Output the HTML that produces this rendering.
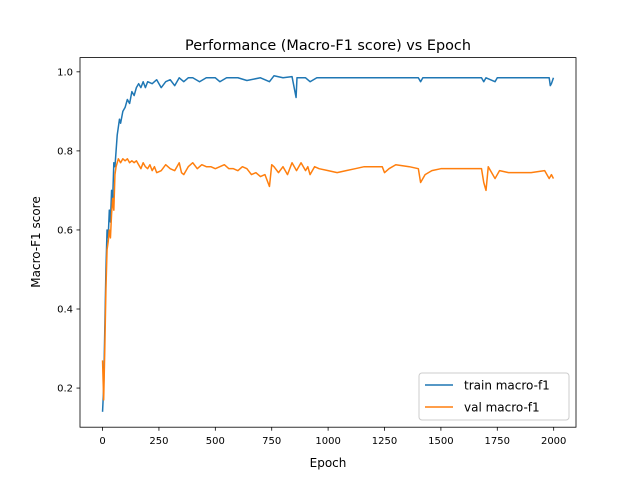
<!DOCTYPE html>
<html><head><meta charset="utf-8"><style>
body{margin:0;background:#fff}
svg text{font-family:"DejaVu Sans","Liberation Sans",sans-serif;fill:#000}
</style></head><body>
<svg id="chart" width="640" height="480" xmlns="http://www.w3.org/2000/svg">
<rect width="640" height="480" fill="#fff"/>
<text x="328" y="50" font-size="14.4" text-anchor="middle">Performance (Macro-F1 score) vs Epoch</text>
<text x="328" y="467" font-size="12" text-anchor="middle">Epoch</text>
<text transform="translate(40,242) rotate(-90)" font-size="12" text-anchor="middle">Macro-F1 score</text>
<g id="plot"></g>
<rect x="80" y="57.6" width="496" height="369.6" fill="none" stroke="#000" stroke-width="0.8"/>
<g>
<rect x="419" y="373" width="150" height="47" rx="3" fill="#fff" fill-opacity="0.8" stroke="#ccc"/>
<line x1="425" y1="385" x2="453" y2="385" stroke="#1f77b4" stroke-width="1.5"/>
<text x="464" y="389.5" font-size="12">train macro-f1</text>
<line x1="425" y1="407" x2="453" y2="407" stroke="#ff7f0e" stroke-width="1.5"/>
<text x="464" y="411.5" font-size="12">val macro-f1</text>
</g>
</svg>
<script>
const xTicks=[0,250,500,750,1000,1250,1500,1750,2000];
const yTicks=[0.2,0.4,0.6,0.8,1.0];
const trainEpochs=[0,5,10,15,20,25,30,35,40,45,50,55,60,65,70,75,80,90,100,110,120,130,140,150,160,170,180,190,200,220,240,260,280,300,320,340,360,380,400,430,460,500,520,550,600,640,700,740,760,800,840,858,862,866,900,920,950,1000,1400,1410,1420,1680,1690,1700,1740,1750,1980,1985,1990,1999];
const trainValues=[0.14,0.2,0.35,0.5,0.6,0.58,0.65,0.62,0.7,0.68,0.77,0.76,0.8,0.84,0.86,0.88,0.87,0.9,0.91,0.93,0.92,0.95,0.94,0.96,0.97,0.96,0.975,0.96,0.975,0.97,0.98,0.96,0.975,0.98,0.965,0.985,0.975,0.985,0.985,0.975,0.985,0.985,0.975,0.985,0.985,0.978,0.985,0.975,0.99,0.985,0.988,0.935,0.985,0.985,0.985,0.975,0.985,0.985,0.985,0.975,0.985,0.985,0.975,0.985,0.975,0.985,0.985,0.965,0.97,0.985];
const valEpochs=[0,5,10,15,20,25,30,35,40,45,50,55,60,65,70,80,90,100,110,120,130,140,150,160,170,180,190,200,210,220,230,240,260,280,300,320,340,350,360,380,400,420,440,460,480,500,520,540,560,580,600,620,640,660,680,700,720,740,750,760,780,800,820,840,860,880,900,910,920,940,960,1000,1040,1080,1120,1160,1200,1240,1250,1270,1300,1360,1400,1410,1430,1460,1500,1600,1680,1690,1700,1710,1730,1740,1760,1800,1900,1960,1980,1990,1999];
const valValues=[0.27,0.17,0.3,0.45,0.55,0.57,0.6,0.58,0.64,0.68,0.65,0.74,0.76,0.77,0.78,0.77,0.78,0.775,0.78,0.77,0.775,0.77,0.775,0.765,0.755,0.77,0.76,0.755,0.765,0.75,0.76,0.745,0.75,0.765,0.755,0.75,0.77,0.745,0.74,0.76,0.77,0.755,0.765,0.76,0.76,0.755,0.76,0.765,0.755,0.755,0.75,0.76,0.755,0.74,0.745,0.735,0.74,0.71,0.765,0.76,0.745,0.76,0.74,0.77,0.75,0.77,0.75,0.76,0.74,0.76,0.755,0.75,0.745,0.75,0.755,0.76,0.76,0.76,0.745,0.755,0.765,0.76,0.755,0.72,0.74,0.75,0.755,0.755,0.755,0.72,0.70,0.76,0.74,0.73,0.75,0.745,0.745,0.75,0.73,0.74,0.73];
const L=80,R=576,T=57.6,B=427.2,X0=-99.95,X1=2098.95,Y0=0.101,Y1=1.036;
const sx=v=>L+(v-X0)/(X1-X0)*(R-L);
const sy=v=>B-(v-Y0)/(Y1-Y0)*(B-T);
const NS="http://www.w3.org/2000/svg";
const g=document.getElementById('plot');
function mk(t,a){const e=document.createElementNS(NS,t);for(const k in a)e.setAttribute(k,a[k]);g.appendChild(e);return e;}
xTicks.forEach(v=>{
  const l=mk('line',{x1:sx(v),x2:sx(v),y1:B,y2:B+3.5,stroke:'#000','stroke-width':0.8});
  
  
  const t=mk('text',{x:sx(v),y:B+17,'font-size':10,'text-anchor':'middle'});t.textContent=v;
  
  
});
yTicks.forEach(v=>{
  const l=mk('line',{x1:L-3.5,x2:L,y1:sy(v),y2:sy(v),stroke:'#000','stroke-width':0.8});
  
  
  const t=mk('text',{x:L-7,y:sy(v)+3.5,'font-size':10,'text-anchor':'end'});t.textContent=v.toFixed(1);
  
  
});
function line(xs,ys,c,name){
  const p=mk('polyline',{points:xs.map((x,i)=>sx(x)+','+sy(ys[i])).join(' '),fill:'none',stroke:c,'stroke-width':1.5,'stroke-linejoin':'round'});
  
  
}
line(trainEpochs,trainValues,'#1f77b4','train-line');
line(valEpochs,valValues,'#ff7f0e','val-line');
</script>
</body></html>
